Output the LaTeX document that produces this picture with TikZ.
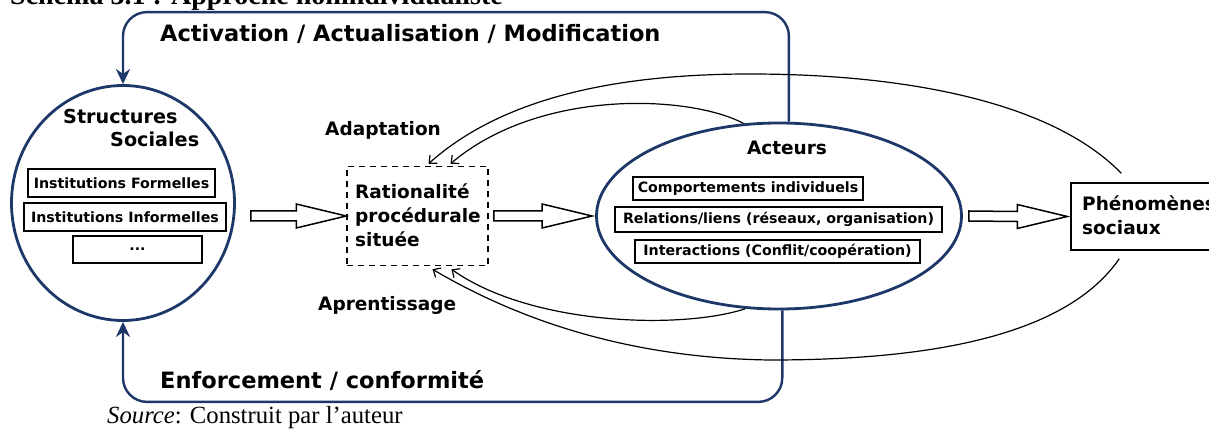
\documentclass[tikz,border=0pt]{standalone}
\usepackage{fontspec}
\setmainfont{Liberation Serif}
\setsansfont{DejaVu Sans}
\usepackage{tikz}
\usetikzlibrary{shapes.geometric,arrows.meta,positioning,calc}
\definecolor{navyline}{RGB}{30,55,105}
\newcommand{\hollowarrow}[2]{%
  \draw[line width=1.5pt,line join=miter,fill=white] ($(#1)+(0,-5)$) -- ($(#2)+(-50,-5)$) -- ++(0,-7) -- (#2)
    -- ($(#2)+(-50,12)$) -- ++(0,-7) -- ($(#1)+(0,5)$) -- cycle;}
\begin{document}
\begin{tikzpicture}[x=1pt,y=-1pt,
  blueell/.style={draw=navyline,ellipse,line width=2.8pt,inner sep=0pt},
  blueconn/.style={draw=navyline,line width=2.4pt,rounded corners=24pt,-{Stealth[length=15pt,width=14pt]}},
  curvearrow/.style={line width=1.2pt,-{Straight Barb[length=6pt,width=11pt]}},
  lbl/.style={font=\sffamily\bfseries\fontsize{18.5}{24}\selectfont,inner sep=0pt,anchor=base west},
  biglbl/.style={font=\sffamily\bfseries\fontsize{22.5}{26}\selectfont,inner sep=0pt,anchor=base west},
  ibox/.style={draw,line width=1.2pt,font=\sffamily\bfseries\fontsize{14.2}{16}\selectfont,inner sep=0pt}]
  \useasboundingbox[fill=white] (0,0) rectangle (1209,430);

  \node[font=\bfseries\fontsize{28}{30}\selectfont,inner sep=0pt,anchor=base west] (title) at (10,5) {Schéma 3.1 : Approche nonindividualiste};

  \node[blueell,minimum width=223pt,minimum height=235pt] (ss) at (123,203) {};
  \node[lbl,font=\sffamily\bfseries\fontsize{19.2}{24}\selectfont] (ssa) at (63,124) {Structures};
  \node[lbl,font=\sffamily\bfseries\fontsize{19.2}{24}\selectfont] (ssb) at (110,147) {Sociales};
  \node[ibox,minimum width=187pt,minimum height=28pt] (inf) at (121.5,183) {Institutions Formelles};
  \node[ibox,minimum width=202pt,minimum height=28pt] (ini) at (125,217) {Institutions Informelles};
  \node[ibox,minimum width=129pt,minimum height=27pt] (etc) at (137.5,249.5) {...};

  \node[draw,dashed,dash pattern=on 6pt off 5pt,line width=1.5pt,minimum width=141pt,minimum height=99pt] (rat) at (417.5,216) {};
  \node[lbl,align=left] (ratx) at (355,247) {Rationalité\\procédurale\\située};

  \node[blueell,minimum width=365pt,minimum height=186pt] (act) at (779,216) {};
  \node[lbl,anchor=base] (acta) at (787,155) {Acteurs};
  \node[ibox,minimum width=230pt,minimum height=23pt] (comp) at (748,188.5) {Comportements individuels};
  \node[ibox,minimum width=327pt,minimum height=25pt] (rel) at (778.5,219.5) {Relations/liens (réseaux, organisation)};
  \node[ibox,minimum width=285pt,minimum height=23pt] (inter) at (777.5,251.5) {Interactions (Conflit/coopération)};

  \node[draw,line width=1.5pt,minimum width=179pt,minimum height=67pt] (phe) at (1160.5,216.5) {};
  \node[lbl,align=left] (phex) at (1082,235) {Phénomènes\\sociaux};

  \node[biglbl] (actv) at (160,42) {Activation / Actualisation / Modification};
  \node[biglbl] (enf) at (160,388) {Enforcement / conformité};
  \node[lbl] (adap) at (325,136) {Adaptation};
  \node[lbl] (apr) at (318,310) {Aprentissage};

  \draw[blueconn] (act.84) |- ([yshift=72pt]ss.north) -- (ss.north);
  \draw[blueconn] (act.272) |- ([yshift=-80pt]ss.south) -- (ss.south);

  \path (ss.east |- rat.west) ++(15,0) coordinate (h1a);
  \path (rat.east) ++(5,0) coordinate (h2a);
  \path (act.west) ++(-3,0) coordinate (h2b);
  \path (act.east) ++(6,0) coordinate (h3a);
  \path (phe.west) ++(-3,0) coordinate (h3b);
  \hollowarrow{h1a}{rat.west}
  \hollowarrow{h2a}{h2b}
  \hollowarrow{h3a}{h3b}

  \draw[curvearrow] ($(phe.north west)+(51,-9)$) .. controls (1050,100) and (900,74) .. (750,74)
    .. controls (610,74) and (500,100) .. ($(rat.north)+(11,-2)$);
  \draw[curvearrow] (act.111) .. controls (690,95) and (540,88) .. ($(rat.north)+(33,-2)$);
  \draw[curvearrow] (act.250) .. controls (680,330) and (530,325) .. ($(rat.south)+(34,3)$);
  \draw[curvearrow] ($(phe.south west)+(49,8)$) .. controls (1060,345) and (900,360) .. (770,360)
    .. controls (620,358) and (510,315) .. ($(rat.south)+(15,3)$);

  \node[font=\fontsize{24.7}{28}\selectfont,inner sep=0pt,anchor=base west] (src) at (107,423) {\textit{Source}: Construit par l’auteur};
\end{tikzpicture}
\end{document}
